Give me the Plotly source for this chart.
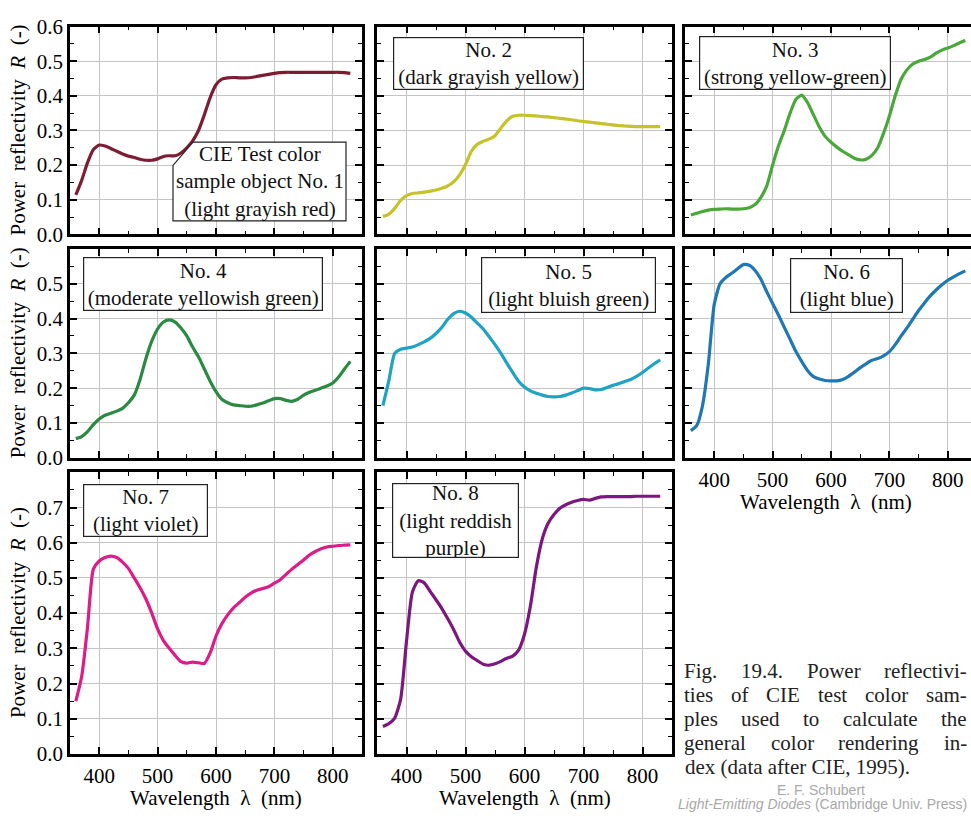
import plotly.graph_objects as go

W, H = 971, 831

wavelength = list(range(360, 840, 10))

R1 = [0.114, 0.156, 0.207, 0.245, 0.258, 0.255, 0.248, 0.240, 0.232, 0.226,
      0.222, 0.217, 0.214, 0.214, 0.218, 0.225, 0.227, 0.227, 0.235, 0.250,
      0.270, 0.300, 0.345, 0.395, 0.432, 0.448, 0.452, 0.453, 0.452, 0.452,
      0.453, 0.456, 0.459, 0.462, 0.465, 0.467, 0.468, 0.468, 0.468, 0.468,
      0.468, 0.468, 0.468, 0.468, 0.468, 0.468, 0.467, 0.465]
R2 = [0.052, 0.058, 0.075, 0.098, 0.112, 0.118, 0.120, 0.122, 0.125, 0.128,
      0.133, 0.140, 0.152, 0.172, 0.202, 0.240, 0.260, 0.269, 0.275, 0.285,
      0.307, 0.328, 0.341, 0.344, 0.344, 0.343, 0.342, 0.340, 0.339, 0.337,
      0.335, 0.333, 0.331, 0.328, 0.326, 0.324, 0.322, 0.320, 0.318, 0.316,
      0.314, 0.313, 0.312, 0.311, 0.311, 0.311, 0.311, 0.311]
R3 = [0.056, 0.061, 0.066, 0.070, 0.072, 0.073, 0.074, 0.073, 0.073, 0.074,
      0.077, 0.086, 0.107, 0.140, 0.200, 0.255, 0.300, 0.350, 0.390, 0.402,
      0.380, 0.345, 0.310, 0.283, 0.266, 0.252, 0.240, 0.230, 0.220, 0.215,
      0.217, 0.228, 0.250, 0.292, 0.342, 0.400, 0.448, 0.475, 0.492, 0.500,
      0.505, 0.512, 0.523, 0.532, 0.538, 0.545, 0.553, 0.560]
R4 = [0.055, 0.061, 0.075, 0.095, 0.111, 0.122, 0.128, 0.134, 0.142, 0.158,
      0.180, 0.225, 0.285, 0.335, 0.370, 0.390, 0.396, 0.390, 0.373, 0.350,
      0.318, 0.290, 0.255, 0.220, 0.190, 0.168, 0.158, 0.152, 0.150, 0.148,
      0.148, 0.152, 0.157, 0.164, 0.170, 0.170, 0.165, 0.162, 0.168, 0.180,
      0.188, 0.194, 0.200, 0.206, 0.215, 0.232, 0.255, 0.277]
R5 = [0.150, 0.221, 0.300, 0.312, 0.315, 0.318, 0.325, 0.333, 0.343, 0.357,
      0.375, 0.398, 0.414, 0.421, 0.416, 0.404, 0.387, 0.370, 0.348, 0.325,
      0.300, 0.272, 0.245, 0.220, 0.203, 0.192, 0.185, 0.180, 0.176, 0.175,
      0.176, 0.180, 0.186, 0.193, 0.200, 0.199, 0.195, 0.196, 0.202, 0.208,
      0.213, 0.219, 0.225, 0.234, 0.245, 0.258, 0.270, 0.281]
R6 = [0.078, 0.092, 0.150, 0.270, 0.440, 0.500, 0.518, 0.530, 0.543, 0.555,
      0.553, 0.538, 0.513, 0.477, 0.443, 0.410, 0.375, 0.340, 0.305, 0.276,
      0.250, 0.233, 0.226, 0.222, 0.221, 0.221, 0.225, 0.234, 0.246, 0.259,
      0.270, 0.280, 0.285, 0.293, 0.305, 0.325, 0.350, 0.373, 0.398, 0.423,
      0.445, 0.465, 0.482, 0.497, 0.510, 0.520, 0.529, 0.537]
R7 = [0.150, 0.220, 0.360, 0.525, 0.548, 0.558, 0.562, 0.558, 0.545, 0.527,
      0.500, 0.472, 0.440, 0.400, 0.355, 0.322, 0.300, 0.280, 0.262, 0.258,
      0.261, 0.259, 0.257, 0.287, 0.335, 0.370, 0.395, 0.415, 0.430, 0.445,
      0.457, 0.465, 0.470, 0.475, 0.485, 0.495, 0.510, 0.525, 0.538, 0.551,
      0.565, 0.575, 0.583, 0.588, 0.590, 0.592, 0.593, 0.594]
R8 = [0.078, 0.086, 0.102, 0.155, 0.320, 0.460, 0.492, 0.486, 0.462, 0.438,
      0.413, 0.384, 0.353, 0.318, 0.292, 0.276, 0.265, 0.255, 0.252, 0.256,
      0.263, 0.272, 0.278, 0.295, 0.340, 0.420, 0.530, 0.610, 0.655, 0.680,
      0.698, 0.708, 0.715, 0.720, 0.723, 0.721, 0.726, 0.730, 0.731, 0.731,
      0.731, 0.731, 0.731, 0.732, 0.732, 0.732, 0.732, 0.732]

series = [R1, R2, R3, R4, R5, R6, R7, R8]

labels = [
    "CIE Test color<br>sample object No. 1<br>(light grayish red)",
    "No. 2<br>(dark grayish yellow)",
    "No. 3<br>(strong yellow-green)",
    "No. 4<br>(moderate yellowish green)",
    "No. 5<br>(light bluish green)",
    "No. 6<br>(light blue)",
    "No. 7<br>(light violet)",
    "No. 8<br>(light reddish<br>purple)",
]

colors = ["#7c1d33", "#c6c22a", "#4aa83a", "#2a8a42",
          "#1fa3c4", "#1f78b4", "#dc1c88", "#7b177f"]

x_ticks = [400, 500, 600, 700, 800]
y_ticks_short = [0.0, 0.1, 0.2, 0.3, 0.4, 0.5]
y_ticks_row1 = [0.0, 0.1, 0.2, 0.3, 0.4, 0.5, 0.6]
y_ticks_row3 = [0.0, 0.1, 0.2, 0.3, 0.4, 0.5, 0.6, 0.7]

x_title = "Wavelength  λ  (nm)"
y_title = "Power  reflectivity  <i>R</i>  (-)"

caption_lines = [
    "Fig. 19.4. Power reflectivi-",
    "ties of CIE test color sam-",
    "ples used to calculate the",
    "general color rendering in-",
    "dex (data after CIE, 1995).",
]

SERIF = "Liberation Serif, Times New Roman, Times, DejaVu Serif, serif"
SANS = "Liberation Sans, Arial, DejaVu Sans, sans-serif"

# approximate Times advance widths (per 1000 em) for justified caption layout
TW = {" ": 250, "a": 444, "b": 500, "c": 444, "d": 500, "e": 444, "f": 333,
      "g": 500, "h": 500, "i": 278, "j": 278, "k": 500, "l": 278, "m": 778,
      "n": 500, "o": 500, "p": 500, "q": 500, "r": 333, "s": 389, "t": 278,
      "u": 500, "v": 500, "w": 722, "x": 500, "y": 500, "z": 444, "F": 556,
      "C": 667, "I": 333, "E": 611, "P": 556, ".": 250, ",": 250, "-": 333,
      "(": 333, ")": 333}


def text_w(s, size):
    return sum(TW.get(ch, 500) for ch in s) * size / 1000.0


def px(x):
    return x / W


def py(y):
    return 1 - y / H


cols_px = [(70, 362), (377, 672), (685, 971)]
rows_px = [(15, 229), (244, 459), (474, 764)]
row_ranges = [[0, 0.6], [0, 0.6], [0, 0.8]]
row_ticks = [y_ticks_row1, y_ticks_short, y_ticks_row3]

fig = go.Figure()
layout = {}

for i, R in enumerate(series):
    r, c = divmod(i, 3)
    k = i + 1
    xa = "x" if k == 1 else f"x{k}"
    ya = "y" if k == 1 else f"y{k}"
    fig.add_trace(go.Scatter(
        x=wavelength, y=R, mode="lines", xaxis=xa, yaxis=ya,
        line=dict(color=colors[i], width=3.2, shape="spline", smoothing=0.6),
        showlegend=False, hoverinfo="skip"))

    x0, x1 = cols_px[c]
    y0, y1 = rows_px[r]
    xr = [350, 850] if c < 2 else [350, 350 + (971 - 685) / 0.584]
    bottom = (r == 2) or (r == 1 and c == 2)
    layout["xaxis" if k == 1 else f"xaxis{k}"] = dict(
        domain=[px(x0), px(x1)], range=xr, anchor=ya,
        showline=True, linewidth=2.5, linecolor="black", mirror="allticks",
        ticks="inside", ticklen=7, tickwidth=1.6, tickcolor="black",
        tickvals=x_ticks, showticklabels=bottom, ticklabelstandoff=1,
        showgrid=True, gridcolor="#c4c4c4", gridwidth=1, zeroline=False,
        minor=dict(ticks="inside", ticklen=4, tickwidth=1.4, tickcolor="black",
                   tickvals=[450, 550, 650, 750], showgrid=False),
        tickfont=dict(family=SERIF, size=21, color="black"),
        fixedrange=True,
    )
    yt = row_ticks[r]
    layout["yaxis" if k == 1 else f"yaxis{k}"] = dict(
        domain=[py(y1), py(y0)], range=row_ranges[r], anchor=xa,
        showline=True, linewidth=2.5, linecolor="black",
        mirror="allticks" if c < 2 else False,
        ticks="inside", ticklen=7, tickwidth=1.6, tickcolor="black",
        tickvals=yt, tickformat=".1f", showticklabels=(c == 0),
        showgrid=True, gridcolor="#c4c4c4", gridwidth=1, zeroline=False,
        minor=dict(ticks="inside", ticklen=4, tickwidth=1.4, tickcolor="black",
                   tickvals=[v + 0.05 for v in yt], showgrid=False),
        tickfont=dict(family=SERIF, size=21, color="black"),
        fixedrange=True,
    )

annotations = []
shapes = []

# Panel 1 callout box
pts = [(193, 134), (346, 134), (346, 215), (173, 215), (173, 158)]
path = "M " + " L ".join(f"{px(a):.5f},{py(b):.5f}" for a, b in pts) + " Z"
shapes.append(dict(type="path", path=path, xref="paper", yref="paper",
                   fillcolor="white", line=dict(color="#222", width=1.2),
                   layer="above"))
annotations.append(dict(text=labels[0], x=px(260), y=py(175), xref="paper",
                        yref="paper", showarrow=False, xanchor="center",
                        yanchor="middle", align="center",
                        font=dict(family=SERIF, size=21, color="#111")))

boxes = [None,
         (393, 27, 584, 80), (699, 26, 891, 80), (83, 253, 323, 307),
         (481, 253, 656, 309), (790, 254, 903, 309), (83, 487, 208, 540),
         (392, 486, 519, 561)]
for i in range(1, 8):
    bx0, by0, bx1, by1 = boxes[i]
    annotations.append(dict(
        text=labels[i], x=px((bx0 + bx1) / 2), y=py((by0 + by1) / 2),
        xref="paper", yref="paper", showarrow=False,
        xanchor="center", yanchor="middle", align="center",
        width=bx1 - bx0 - 2, height=by1 - by0 - 2,
        bordercolor="#222", borderwidth=1.2, borderpad=0, bgcolor="white",
        font=dict(family=SERIF, size=21, color="#111")))

# axis titles
for (a, b) in rows_px:
    annotations.append(dict(text=y_title, x=px(18), y=py((a + b) / 2),
                            xref="paper", yref="paper", showarrow=False,
                            textangle=-90, xanchor="center", yanchor="middle",
                            font=dict(family=SERIF, size=21, color="black")))
for cx, cy in [((70 + 362) / 2, 809), ((377 + 672) / 2, 809), (826, 505)]:
    annotations.append(dict(text=x_title, x=px(cx), y=py(cy), xref="paper",
                            yref="paper", showarrow=False, xanchor="center",
                            yanchor="middle",
                            font=dict(family=SERIF, size=21, color="black")))

# caption, justified between left_x and right_x (last line left-aligned)
CAP_SIZE = 21
left_x, right_x = 683, 966
for j, line in enumerate(caption_lines):
    yc = py(679 + j * 24.5)
    words = line.split(" ")
    if j == len(caption_lines) - 1:
        annotations.append(dict(text=line, x=px(left_x), y=yc, xref="paper",
                                yref="paper", showarrow=False, xanchor="left",
                                yanchor="middle",
                                font=dict(family=SERIF, size=CAP_SIZE, color="#222")))
        continue
    widths = [text_w(w_, CAP_SIZE) for w_ in words]
    gap = (right_x - left_x - sum(widths)) / (len(words) - 1)
    xpos = left_x
    for w_, wd in zip(words, widths):
        annotations.append(dict(text=w_, x=px(xpos), y=yc, xref="paper",
                                yref="paper", showarrow=False, xanchor="left",
                                yanchor="middle", borderpad=0,
                                font=dict(family=SERIF, size=CAP_SIZE, color="#222")))
        xpos += wd + gap

annotations.append(dict(text="E. F. Schubert", x=px(821), y=py(801),
                        xref="paper", yref="paper", showarrow=False,
                        xanchor="center", yanchor="middle",
                        font=dict(family=SANS, size=14, color="#a8a8a8")))
annotations.append(dict(text="<i>Light-Emitting Diodes</i> (Cambridge Univ. Press)",
                        x=px(969), y=py(816), xref="paper", yref="paper",
                        showarrow=False, xanchor="right", yanchor="middle",
                        font=dict(family=SANS, size=14, color="#a8a8a8")))

layout.update(dict(
    width=W, height=H, margin=dict(l=0, r=0, t=0, b=0),
    paper_bgcolor="white", plot_bgcolor="white",
    font=dict(family=SERIF, size=21, color="black"),
    annotations=annotations, shapes=shapes, showlegend=False,
))
fig.update_layout(**layout)
fig.write_html("out.html", config={"displayModeBar": False})
